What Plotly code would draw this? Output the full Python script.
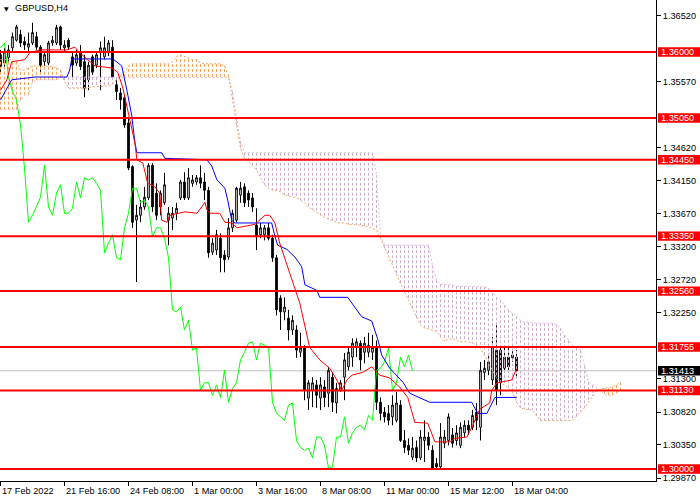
import plotly.graph_objects as go

# ---------------- data ----------------
title_text = "GBPUSD,H4"

open_ = [
    1.3596, 1.3584, 1.3592, 1.3606, 1.3617, 1.3625, 1.3615, 1.3607, 1.3613, 1.3622,
    1.3607, 1.3586, 1.3584, 1.3613, 1.3613, 1.3636, 1.3606, 1.3617, 1.3593, 1.3584,
    1.3599, 1.3586, 1.3560, 1.3593, 1.3581, 1.3599, 1.3593, 1.3599, 1.3607, 1.3553,
    1.3541, 1.3534, 1.3498, 1.3435, 1.3358, 1.3365, 1.3377, 1.3390, 1.3437, 1.3397,
    1.3377, 1.3383, 1.3358, 1.3361, 1.3368, 1.3390, 1.3413, 1.3390, 1.3411, 1.3413,
    1.3419, 1.3413, 1.3401, 1.3312, 1.3315, 1.3332, 1.3308, 1.3305, 1.3347, 1.3358,
    1.3394, 1.3406, 1.3397, 1.3390, 1.3351, 1.3337, 1.3337, 1.3347, 1.3332, 1.3304,
    1.3246, 1.3226, 1.3217, 1.3200, 1.3200, 1.3168, 1.3174, 1.3102, 1.3113, 1.3121,
    1.3102, 1.3118, 1.3109, 1.3132, 1.3095, 1.3113, 1.3132, 1.3147, 1.3161, 1.3175,
    1.3181, 1.3168, 1.3168, 1.3168, 1.3175, 1.3096, 1.3082, 1.3080, 1.3075, 1.3070,
    1.3092, 1.3041, 1.3034, 1.3017, 1.3031, 1.3016, 1.3041, 1.3046, 1.3027, 1.3008,
    1.3003, 1.3037, 1.3041, 1.3049, 1.3041, 1.3034, 1.3052, 1.3063, 1.3060, 1.3082,
    1.3060, 1.3139, 1.3142, 1.3128, 1.3171, 1.3171, 1.3145, 1.3161, 1.3160, 1.3161,
]
high = [
    1.3603, 1.3606, 1.3610, 1.3628, 1.3639, 1.3632, 1.3622, 1.3628, 1.3642, 1.3629,
    1.3610, 1.3600, 1.3616, 1.3623, 1.3639, 1.3638, 1.3617, 1.3620, 1.3600, 1.3603,
    1.3610, 1.3596, 1.3586, 1.3596, 1.3600, 1.3615, 1.3622, 1.3617, 1.3617, 1.3560,
    1.3548, 1.3538, 1.3505, 1.3437, 1.3380, 1.3387, 1.3406, 1.3440, 1.3440, 1.3411,
    1.3401, 1.3426, 1.3377, 1.3377, 1.3383, 1.3416, 1.3427, 1.3433, 1.3423, 1.3423,
    1.3437, 1.3426, 1.3406, 1.3332, 1.3344, 1.3339, 1.3315, 1.3361, 1.3373, 1.3406,
    1.3413, 1.3411, 1.3401, 1.3397, 1.3375, 1.3354, 1.3351, 1.3354, 1.3337, 1.3308,
    1.3250, 1.3247, 1.3229, 1.3221, 1.3207, 1.3196, 1.3178, 1.3128, 1.3132, 1.3128,
    1.3132, 1.3128, 1.3147, 1.3139, 1.3124, 1.3128, 1.3167, 1.3175, 1.3188, 1.3188,
    1.3185, 1.3190, 1.3196, 1.3193, 1.3185, 1.3103, 1.3089, 1.3092, 1.3106, 1.3111,
    1.3099, 1.3056, 1.3044, 1.3046, 1.3041, 1.3056, 1.3070, 1.3053, 1.3034, 1.3016,
    1.3066, 1.3056, 1.3080, 1.3059, 1.3063, 1.3067, 1.3070, 1.3070, 1.3085, 1.3095,
    1.3154, 1.3157, 1.3164, 1.3190, 1.3207, 1.3178, 1.3174, 1.3175, 1.3171, 1.3171,
]
low = [
    1.3571, 1.3577, 1.3586, 1.3599, 1.3615, 1.3607, 1.3603, 1.3599, 1.3610, 1.3603,
    1.3571, 1.3580, 1.3581, 1.3609, 1.3610, 1.3603, 1.3600, 1.3603, 1.3564, 1.3580,
    1.3574, 1.3535, 1.3545, 1.3567, 1.3577, 1.3545, 1.3589, 1.3594, 1.3560, 1.3531,
    1.3517, 1.3491, 1.3430, 1.3347, 1.3269, 1.3355, 1.3373, 1.3387, 1.3370, 1.3358,
    1.3365, 1.3380, 1.3322, 1.3344, 1.3358, 1.3387, 1.3387, 1.3387, 1.3406, 1.3409,
    1.3404, 1.3387, 1.3304, 1.3308, 1.3308, 1.3283, 1.3283, 1.3301, 1.3341, 1.3355,
    1.3383, 1.3377, 1.3377, 1.3370, 1.3315, 1.3332, 1.3329, 1.3329, 1.3298, 1.3221,
    1.3200, 1.3214, 1.3185, 1.3193, 1.3160, 1.3161, 1.3099, 1.3085, 1.3089, 1.3088,
    1.3085, 1.3089, 1.3089, 1.3082, 1.3080, 1.3111, 1.3099, 1.3142, 1.3147, 1.3161,
    1.3142, 1.3152, 1.3161, 1.3157, 1.3085, 1.3070, 1.3067, 1.3063, 1.3063, 1.3067,
    1.3039, 1.3023, 1.3020, 1.3013, 1.3010, 1.3013, 1.3010, 1.3027, 1.3000, 1.3000,
    1.3000, 1.3030, 1.3034, 1.3031, 1.3034, 1.3030, 1.3046, 1.3049, 1.3056, 1.3056,
    1.3041, 1.3128, 1.3135, 1.3121, 1.3092, 1.3106, 1.3139, 1.3139, 1.3154, 1.3131,
]
close = [
    1.3579, 1.3600, 1.3603, 1.3622, 1.3636, 1.3613, 1.3610, 1.3612, 1.3628, 1.3607,
    1.3581, 1.3596, 1.3613, 1.3617, 1.3635, 1.3610, 1.3610, 1.3607, 1.3581, 1.3596,
    1.3579, 1.3548, 1.3581, 1.3571, 1.3596, 1.3606, 1.3606, 1.3613, 1.3564, 1.3543,
    1.3531, 1.3495, 1.3433, 1.3355, 1.3365, 1.3377, 1.3391, 1.3437, 1.3377, 1.3365,
    1.3397, 1.3409, 1.3368, 1.3368, 1.3375, 1.3413, 1.3390, 1.3419, 1.3416, 1.3419,
    1.3411, 1.3401, 1.3311, 1.3325, 1.3337, 1.3304, 1.3301, 1.3347, 1.3368, 1.3404,
    1.3404, 1.3383, 1.3387, 1.3377, 1.3334, 1.3347, 1.3347, 1.3332, 1.3304, 1.3229,
    1.3226, 1.3233, 1.3200, 1.3214, 1.3171, 1.3174, 1.3113, 1.3124, 1.3124, 1.3106,
    1.3121, 1.3103, 1.3142, 1.3096, 1.3116, 1.3124, 1.3157, 1.3168, 1.3181, 1.3183,
    1.3157, 1.3181, 1.3178, 1.3175, 1.3096, 1.3080, 1.3075, 1.3070, 1.3092, 1.3095,
    1.3041, 1.3031, 1.3027, 1.3030, 1.3016, 1.3046, 1.3046, 1.3034, 1.3001, 1.3003,
    1.3046, 1.3046, 1.3075, 1.3037, 1.3052, 1.3060, 1.3063, 1.3056, 1.3077, 1.3070,
    1.3142, 1.3145, 1.3154, 1.3174, 1.3113, 1.3124, 1.3161, 1.3147, 1.3164, 1.31413,
]

# Tenkan-sen (red) vertices: bar index, price
tenkan_x = [0, 1.6, 2.8, 6.1, 7.3, 9.8, 16.6, 18.6, 19.8, 23.6,
            27.8, 29.3, 30.6, 32.3, 33.6, 34.1, 35.6, 36.8, 38.6, 39.8,
            40.3, 41.6, 42.3, 46.1, 49.1, 50.3, 51.1, 51.6, 52.3, 54.8,
            56.1, 57.8, 59.1, 63.6, 66.1, 67.3, 68.6, 69.8, 72.3, 74.8,
            77.3, 79.8, 82.3, 84.1, 85.3, 86.6, 87.8, 90.6, 92.8, 94.8,
            97.3, 99.8, 101.8, 103.6, 106.8, 108.6, 112.3, 113.6, 116.6, 118.1,
            119.8, 122.3, 122.8, 124.1, 127.8, 129]
tenkan_y = [1.3545, 1.3560, 1.3586, 1.3589, 1.3599, 1.3603, 1.3603, 1.3607, 1.3599, 1.3580,
            1.3577, 1.3571, 1.3548, 1.3505, 1.3469, 1.3445, 1.3440, 1.3411, 1.3406, 1.3397,
            1.3358, 1.3355, 1.3365, 1.3370, 1.3368, 1.3377, 1.3384, 1.3373, 1.3368, 1.3368,
            1.3355, 1.3354, 1.3347, 1.3352, 1.3365, 1.3365, 1.3354, 1.3325, 1.3283, 1.3239,
            1.3175, 1.3157, 1.3145, 1.3128, 1.3113, 1.3128, 1.3135, 1.3139, 1.3147, 1.3135,
            1.3131, 1.3118, 1.3103, 1.3067, 1.3066, 1.3039, 1.3039, 1.3044, 1.3046, 1.3063,
            1.3086, 1.3095, 1.3113, 1.3124, 1.3128, 1.3144]

# Kijun-sen (blue) vertices
kijun_x = [0, 1.1, 2.8, 8.6, 16.6, 17.3, 17.8, 28.1, 29.3, 30.3,
           31.6, 32.8, 33.6, 34.1, 40.3, 41.1, 51.6, 52.8, 54.1, 56.1,
           56.8, 57.8, 58.6, 67.8, 68.6, 69.3, 71.6, 73.6, 75.3, 76.1,
           79.1, 79.8, 86.8, 88.6, 90.3, 92.8, 94.3, 95.3, 97.3, 100.6,
           102.3, 107.3, 117.8, 119.3, 121.6, 123.6, 129]
kijun_y = [1.3531, 1.3543, 1.3560, 1.3564, 1.3564, 1.3574, 1.3590, 1.3590, 1.3584, 1.3580,
           1.3545, 1.3509, 1.3470, 1.3455, 1.3455, 1.3447, 1.3445, 1.3436, 1.3416, 1.3404,
           1.3387, 1.3358, 1.3354, 1.3354, 1.3335, 1.3322, 1.3316, 1.3305, 1.3291, 1.3265,
           1.3257, 1.3247, 1.3247, 1.3233, 1.3219, 1.3213, 1.3187, 1.3164, 1.3145, 1.3125,
           1.3109, 1.3096, 1.3096, 1.3080, 1.3080, 1.3103, 1.3103]

# Senkou span A (sandy brown) and B (thistle), one value per bar incl. 26 bars ahead
span_a = [
    1.3589, 1.3589, 1.3589, 1.3589, 1.3586, 1.3574, 1.3574, 1.3577, 1.3580, 1.3580,
    1.3580, 1.3580, 1.3579, 1.3579, 1.3577, 1.3574, 1.3557, 1.3548, 1.3548, 1.3548,
    1.3548, 1.3548, 1.3548, 1.3550, 1.3550, 1.3550, 1.3550, 1.3551, 1.3554, 1.3560,
    1.3566, 1.3571, 1.3580, 1.3583, 1.3583, 1.3583, 1.3583, 1.3583, 1.3583, 1.3583,
    1.3583, 1.3583, 1.3583, 1.3586, 1.3593, 1.3596, 1.3594, 1.3592, 1.3589, 1.3589,
    1.3584, 1.3583, 1.3583, 1.3583, 1.3583, 1.3583, 1.3580, 1.3566, 1.3531, 1.3495,
    1.3462, 1.3447, 1.3442, 1.3437, 1.3430, 1.3419, 1.3409, 1.3404, 1.3401, 1.3401,
    1.3399, 1.3394, 1.3393, 1.3391, 1.3390, 1.3387, 1.3383, 1.3377, 1.3373, 1.3370,
    1.3365, 1.3362, 1.3360, 1.3357, 1.3355, 1.3354, 1.3354, 1.3352, 1.3352, 1.3351,
    1.3351, 1.3350, 1.3348, 1.3347, 1.3344, 1.3332, 1.3318, 1.3306, 1.3293, 1.3279,
    1.3267, 1.3255, 1.3243, 1.3229, 1.3217, 1.3207, 1.3203, 1.3201, 1.3200, 1.3198,
    1.3190, 1.3184, 1.3187, 1.3188, 1.3185, 1.3183, 1.3183, 1.3183, 1.3181, 1.3178,
    1.3174, 1.3164, 1.3154, 1.3142, 1.3131, 1.3124, 1.3121, 1.3116, 1.3111, 1.3096,
    1.3088, 1.3086, 1.3085, 1.3085, 1.3077, 1.3070, 1.3070, 1.3070, 1.3070, 1.3070,
    1.3070, 1.3070, 1.3070, 1.3070, 1.3076, 1.3082, 1.3088, 1.3096, 1.3105, 1.3113,
    1.3115, 1.3116, 1.3116, 1.3118, 1.3121, 1.3125,
]
span_b = [
    1.3517, 1.3517, 1.3517, 1.3517, 1.3517, 1.3531, 1.3538, 1.3538, 1.3557, 1.3560,
    1.3560, 1.3560, 1.3560, 1.3560, 1.3560, 1.3563, 1.3564, 1.3564, 1.3564, 1.3564,
    1.3564, 1.3564, 1.3564, 1.3564, 1.3564, 1.3564, 1.3564, 1.3564, 1.3564, 1.3564,
    1.3564, 1.3564, 1.3564, 1.3564, 1.3564, 1.3564, 1.3564, 1.3564, 1.3564, 1.3564,
    1.3564, 1.3564, 1.3564, 1.3564, 1.3564, 1.3564, 1.3564, 1.3564, 1.3564, 1.3564,
    1.3564, 1.3564, 1.3564, 1.3564, 1.3564, 1.3564, 1.3564, 1.3563, 1.3543, 1.3505,
    1.3471, 1.3455, 1.3455, 1.3455, 1.3455, 1.3455, 1.3455, 1.3455, 1.3455, 1.3455,
    1.3455, 1.3455, 1.3455, 1.3455, 1.3455, 1.3455, 1.3455, 1.3455, 1.3455, 1.3455,
    1.3455, 1.3455, 1.3455, 1.3455, 1.3455, 1.3455, 1.3455, 1.3455, 1.3455, 1.3455,
    1.3455, 1.3455, 1.3455, 1.3455, 1.3423, 1.3337, 1.3322, 1.3322, 1.3322, 1.3322,
    1.3322, 1.3322, 1.3322, 1.3322, 1.3322, 1.3322, 1.3322, 1.3322, 1.3293, 1.3272,
    1.3266, 1.3265, 1.3265, 1.3265, 1.3263, 1.3263, 1.3263, 1.3262, 1.3262, 1.3262,
    1.3262, 1.3262, 1.3260, 1.3253, 1.3247, 1.3243, 1.3236, 1.3229, 1.3224, 1.3220,
    1.3214, 1.3211, 1.3211, 1.3210, 1.3210, 1.3210, 1.3210, 1.3210, 1.3210, 1.3208,
    1.3203, 1.3193, 1.3185, 1.3178, 1.3174, 1.3171, 1.3149, 1.3125, 1.3121, 1.3116,
    1.3112, 1.3108, 1.3106, 1.3106, 1.3109, 1.3113,
]
chikou_shift = 26

levels = [1.36000, 1.35050, 1.34450, 1.33350, 1.32560, 1.31755, 1.31130, 1.30000]
bid_price = 1.31413

ytick_vals = [1.36520, 1.35570, 1.34620, 1.34150, 1.33670, 1.33200,
              1.32720, 1.32250, 1.31300, 1.30820, 1.30350, 1.29870]
xtick_idx = [0, 16, 32, 48, 64, 80, 96, 112, 128]
xtick_text = ["17 Feb 2022", "21 Feb 16:00", "24 Feb 08:00", "1 Mar 00:00", "3 Mar 16:00",
              "8 Mar 08:00", "11 Mar 00:00", "15 Mar 12:00", "18 Mar 04:00"]

# ---------------- layout geometry ----------------
W, H = 700, 500
ML, MR, MT, MB = 0, 44, 0, 19
PW, PH = W - ML - MR, H - MT - MB
Y_TOP, Y_BOT = 1.367482, 1.298273
X_LEFT, X_RIGHT = -0.125, 163.875
PPX = (Y_TOP - Y_BOT) / PH   # price per pixel
FONT = "Liberation Sans, Arial, sans-serif"
FS = 9.2

SANDY = "#f4a460"
THISTLE = "#d8bfd8"

fig = go.Figure()

# cloud hatch (vertical dotted strokes per bar)
n_cloud = min(len(span_a), len(span_b))
ox, oy, tx, ty = [], [], [], []
for i in range(n_cloud):
    a, b = span_a[i], span_b[i]
    if a >= b:
        ox += [i, i, None]
        oy += [b, a, None]
    else:
        tx += [i, i, None]
        ty += [b, a, None]
fig.add_trace(go.Scatter(x=tx, y=ty, mode="lines", hoverinfo="skip",
                         line=dict(color="#cdb0cd", width=1, dash="3px,2px")))
fig.add_trace(go.Scatter(x=ox, y=oy, mode="lines", hoverinfo="skip",
                         line=dict(color=SANDY, width=1, dash="3px,2px")))
fig.add_trace(go.Scatter(x=list(range(n_cloud)), y=span_b[:n_cloud], mode="lines",
                         hoverinfo="skip", line=dict(color=THISTLE, width=1, dash="2px,2px")))
fig.add_trace(go.Scatter(x=list(range(n_cloud)), y=span_a[:n_cloud], mode="lines",
                         hoverinfo="skip", line=dict(color=SANDY, width=1, dash="2px,2px")))

# candles
bars = list(range(len(close)))
fig.add_trace(go.Candlestick(
    x=bars, open=open_, high=high, low=low, close=close,
    increasing=dict(line=dict(color="black", width=1), fillcolor="white"),
    decreasing=dict(line=dict(color="black", width=1), fillcolor="black"),
    whiskerwidth=0, hoverinfo="skip", showlegend=False))

# chikou span: closes shifted back
chik_y = close[chikou_shift:]
fig.add_trace(go.Scatter(x=list(range(len(chik_y))), y=chik_y, mode="lines",
                         hoverinfo="skip", line=dict(color="#00ff00", width=1)))
fig.add_trace(go.Scatter(x=kijun_x, y=kijun_y, mode="lines", hoverinfo="skip",
                         line=dict(color="#0000ff", width=1)))
fig.add_trace(go.Scatter(x=tenkan_x, y=tenkan_y, mode="lines", hoverinfo="skip",
                         line=dict(color="#ff0000", width=1)))

shapes = []
annotations = []
# bid line
shapes.append(dict(type="line", xref="paper", x0=0, x1=1, yref="y", y0=bid_price, y1=bid_price,
                   line=dict(color="#c0c0c0", width=1), layer="below"))
# level lines and their price labels
box_x0 = 658 / PW
box_x1 = 700 / PW
txt_x = 661 / PW
for lv in levels:
    shapes.append(dict(type="line", xref="paper", x0=0, x1=1, yref="y", y0=lv, y1=lv,
                       line=dict(color="#ff0000", width=2), layer="above"))
    shapes.append(dict(type="rect", xref="paper", x0=box_x0, x1=box_x1, yref="y",
                       y0=lv - 4.7 * PPX, y1=lv + 4.7 * PPX,
                       fillcolor="#ff0000", line=dict(width=0), layer="above"))
    annotations.append(dict(x=txt_x, xref="paper", y=lv, yref="y", text=f"{lv:.5f}",
                            showarrow=False, xanchor="left", yanchor="middle", xshift=-2,
                            font=dict(family=FONT, size=FS, color="white")))
# bid label
shapes.append(dict(type="rect", xref="paper", x0=box_x0, x1=box_x1, yref="y",
                   y0=bid_price - 4.7 * PPX, y1=bid_price + 4.7 * PPX,
                   fillcolor="#000000", line=dict(width=0), layer="above"))
annotations.append(dict(x=txt_x, xref="paper", y=bid_price, yref="y", text=f"{bid_price:.5f}",
                        showarrow=False, xanchor="left", yanchor="middle", xshift=-2,
                        font=dict(family=FONT, size=FS, color="white")))

# x tick labels (left aligned at ticks)
for idx, lab in zip(xtick_idx, xtick_text):
    annotations.append(dict(x=idx, xref="x", y=-10 / PH, yref="paper", text=lab,
                            showarrow=False, xanchor="left", yanchor="middle", xshift=-1,
                            font=dict(family=FONT, size=FS, color="black")))

# title
annotations.append(dict(x=4 / PW, xref="paper", y=1 - 8 / PH, yref="paper", text="▼",
                        showarrow=False, xanchor="left", yanchor="middle", xshift=-2,
                        font=dict(family="DejaVu Sans", size=6, color="black")))
annotations.append(dict(x=15 / PW, xref="paper", y=1 - 8 / PH, yref="paper", text=title_text,
                        showarrow=False, xanchor="left", yanchor="middle", xshift=-2,
                        font=dict(family=FONT, size=FS, color="black")))

fig.update_layout(
    width=W, height=H,
    margin=dict(l=ML, r=MR, t=MT, b=MB, pad=0),
    paper_bgcolor="white", plot_bgcolor="white",
    showlegend=False, boxgap=0.4,
    shapes=shapes, annotations=annotations,
    xaxis=dict(range=[X_LEFT, X_RIGHT], showgrid=False, zeroline=False,
               rangeslider=dict(visible=False), showline=True, linecolor="black", linewidth=1,
               ticks="outside", ticklen=4, tickcolor="black", tickwidth=1,
               tickvals=xtick_idx, showticklabels=False, fixedrange=True),
    yaxis=dict(range=[Y_BOT, Y_TOP], side="right", showgrid=False, zeroline=False,
               showline=True, linecolor="black", linewidth=1,
               ticks="outside", ticklen=4, tickcolor="black", tickwidth=1,
               tickvals=ytick_vals, ticktext=[f"{v:.5f}" for v in ytick_vals],
               tickfont=dict(family=FONT, size=FS, color="black"), fixedrange=True),
)

fig.write_html("out.html", config={"displayModeBar": False},
               post_script="document.body.style.margin='0px';")
